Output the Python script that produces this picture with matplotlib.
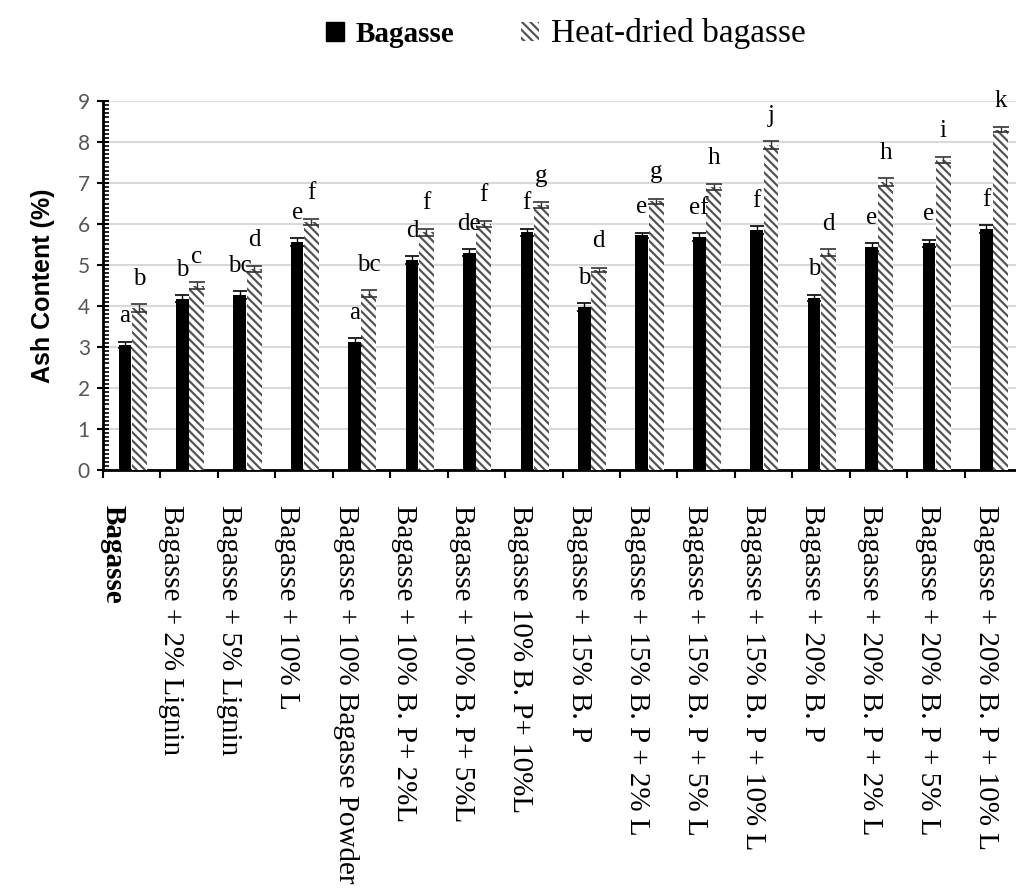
import numpy as np
import matplotlib
matplotlib.use('Agg')
import matplotlib.pyplot as plt
from matplotlib.patches import Patch
from matplotlib.ticker import MultipleLocator

# data
categories = ["Bagasse",
  "Bagasse + 2% Lignin",
  "Bagasse + 5% Lignin",
  "Bagasse + 10% L",
  "Bagasse + 10% Bagasse Powder",
  "Bagasse + 10% B. P+ 2%L",
  "Bagasse + 10% B. P+ 5%L",
  "Bagasse 10% B. P+ 10%L",
  "Bagasse + 15% B. P",
  "Bagasse + 15% B. P + 2% L",
  "Bagasse + 15% B. P + 5% L",
  "Bagasse + 15% B. P + 10% L",
  "Bagasse + 20% B. P",
  "Bagasse + 20% B. P + 2% L",
  "Bagasse + 20% B. P + 5% L",
  "Bagasse + 20% B. P + 10% L"
]
bagasse = [3.05, 4.18, 4.27, 5.56, 3.12, 5.12, 5.30, 5.80, 3.98, 5.72, 5.68, 5.85, 4.19, 5.44, 5.53, 5.87]
heat_dried = [3.95, 4.50, 4.90, 6.05, 4.30, 5.80, 6.00, 6.46, 4.88, 6.55, 6.90, 7.93, 5.30, 7.02, 7.56, 8.30]
bagasse_err = [0.08, 0.08, 0.09, 0.10, 0.09, 0.09, 0.08, 0.09, 0.09, 0.06, 0.09, 0.09, 0.08, 0.09, 0.08, 0.10]
heat_err = [0.09, 0.08, 0.07, 0.07, 0.08, 0.09, 0.08, 0.08, 0.05, 0.07, 0.08, 0.09, 0.09, 0.09, 0.08, 0.06]
bagasse_letters = ["a", "b", "bc", "e", "a", "d", "de", "f", "b", "e", "ef", "f", "b", "e", "e", "f"]
heat_letters = ["b", "c", "d", "f", "bc", "f", "f", "g", "d", "g", "h", "j", "d", "h", "i", "k"]

plt.rcParams['hatch.linewidth'] = 1.6

fig = plt.figure(figsize=(10.16, 8.94), dpi=100)
ax = fig.add_axes([103/1016, 1-470/894, (1022-103)/1016, (470-101)/894])

x = np.arange(len(categories))
w = 0.22
ax.bar(x-0.12, bagasse, w, color='black', yerr=bagasse_err, capsize=5,
       error_kw=dict(elinewidth=1, capthick=1.2, ecolor='black'), zorder=3)
ax.bar(x+0.13, heat_dried, 0.26, color='white', edgecolor='#555555', linewidth=0,
       hatch='\\\\\\\\', yerr=heat_err, capsize=6,
       error_kw=dict(elinewidth=1, capthick=1.2, ecolor='#333333'), zorder=3)

for i in range(len(categories)):
  ax.text(x[i]-0.12, bagasse[i]+0.56, bagasse_letters[i], ha='center', va='baseline',
          family='Liberation Serif', fontsize=18, clip_on=False)
  ax.text(x[i]+0.13, heat_dried[i]+0.56, heat_letters[i], ha='center', va='baseline',
          family='Liberation Serif', fontsize=18, clip_on=False)

ax.set_xlim(-0.5, len(categories)-0.5)
ax.set_ylim(0, 9)
ax.yaxis.set_major_locator(MultipleLocator(1))
ax.yaxis.set_minor_locator(MultipleLocator(0.1))
ax.grid(axis='y', color='#d9d9d9', linewidth=1.5, zorder=0)
ax.set_axisbelow(True)

for s in ['top', 'right']:
  ax.spines[s].set_visible(False)
ax.spines['left'].set_linewidth(2)
ax.spines['bottom'].set_linewidth(2)

ax.tick_params(axis='y', which='major', direction='inout', length=9, width=1.5,
               labelsize=15, labelcolor='#555555', pad=5)
ax.tick_params(axis='y', which='minor', direction='in', length=4, width=1.2)
for t in ax.get_yticklabels():
  t.set_family('Lato')

ax.set_xticks(np.arange(-0.5, len(categories), 1))
ax.set_xticklabels([])
ax.tick_params(axis='x', which='major', direction='out', length=6, width=1.5)
# labels sit a bit left of the bar groups, as in the original
label_pos = x - 0.33 + 0.014*x
ax.set_xticks(label_pos, minor=True)
ax.set_xticklabels(categories, minor=True, rotation=-90, family='Liberation Serif',
                   fontsize=21, va='top', ha='center')
ax.tick_params(axis='x', which='minor', length=0, pad=25)
ax.get_xticklabels(minor=True)[0].set_fontweight('bold')

ax.set_ylabel('Ash Content (%)', family='Liberation Sans', fontweight='bold',
              fontsize=18, labelpad=16)

handles = [Patch(facecolor='black', edgecolor='black'),
           Patch(facecolor='white', edgecolor='#555555', hatch='\\\\\\\\', linewidth=0)]
leg = fig.legend(handles, ['Bagasse', 'Heat-dried bagasse'], ncol=2, frameon=False,
                 loc='center', bbox_to_anchor=(0.557, 0.963), handlelength=0.6,
                 handleheight=0.6, handletextpad=0.4, columnspacing=2.3,
                 prop={'family': 'Liberation Serif', 'size': 21})
leg.get_texts()[0].set_fontweight('bold')
leg.get_texts()[1].set_fontsize(24)

plt.savefig('out.png', dpi=100)
